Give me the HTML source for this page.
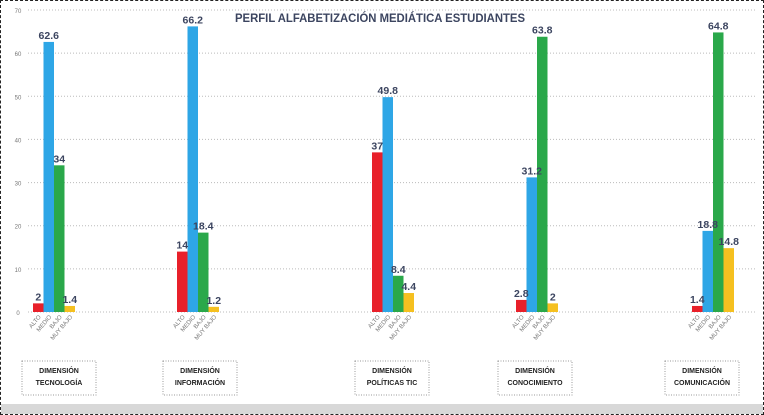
<!DOCTYPE html>
<html><head><meta charset="utf-8"><style>
html,body{margin:0;padding:0;background:#fff}
body{width:764px;height:415px;overflow:hidden;position:relative;font-family:"Liberation Sans",sans-serif}
</style></head><body>
<div style="position:absolute;left:0;top:0;width:762px;height:413px;border:1px dashed #222"></div>
<div style="position:absolute;left:1px;top:404px;width:762px;height:10px;background:#d8d8d8"></div>
<svg id="c" width="764" height="415" style="position:absolute;left:0;top:0"></svg>
<script>
const categories=["DIMENSIÓN TECNOLOGÍA","DIMENSIÓN INFORMACIÓN","DIMENSIÓN POLÍTICAS TIC","DIMENSIÓN CONOCIMIENTO","DIMENSIÓN COMUNICACIÓN"];
const levels=["ALTO","MEDIO","BAJO","MUY BAJO"];
const alto=[2,14,37,2.8,1.4];
const medio=[62.6,66.2,49.8,31.2,18.8];
const bajo=[34,18.4,8.4,63.8,64.8];
const muyBajo=[1.4,1.2,4.4,2,14.8];
const yTicks=[0,10,20,30,40,50,60,70];
const series=[alto,medio,bajo,muyBajo];
const colors=["#e8202a","#2ea6e6","#2aa84a","#f5c020"];
const groupLeft=[33,177,372,516,692];
const boxLines=[["DIMENSIÓN","TECNOLOGÍA"],["DIMENSIÓN","INFORMACIÓN"],["DIMENSIÓN","POLÍTICAS TIC"],["DIMENSIÓN","CONOCIMIENTO"],["DIMENSIÓN","COMUNICACIÓN"]];
const boxX=[22,163,355,498,665];
const svg=document.getElementById('c');const NS="http://www.w3.org/2000/svg";
const y0=312,yTop=10,yMax=70;
function y(v){return y0-(v/yMax)*(y0-yTop);}
function mk(t,a,p){const e=document.createElementNS(NS,t);for(const k in a)e.setAttribute(k,a[k]);(p||svg).appendChild(e);return e;}
const title=mk('text',{x:380,y:22,'text-anchor':'middle','font-size':12,'font-weight':'bold',fill:'#3c4560',textLength:290,lengthAdjust:'spacingAndGlyphs'});
title.textContent="PERFIL ALFABETIZACIÓN MEDIÁTICA ESTUDIANTES";


yTicks.forEach(t=>{
 if(t>0){const g=mk('line',{x1:28,x2:755,y1:y(t),y2:y(t),stroke:'#bbb','stroke-dasharray':'1 2'});
 
 }
 const l=mk('text',{x:18,y:y(t)+3,'text-anchor':'middle','font-size':6,fill:'#777'});
 l.textContent=t;
 
 
});
const ax=mk('line',{x1:28,x2:755,y1:y0,y2:y0,stroke:'#bbb','stroke-dasharray':'1 2'});


const bw=10.5;
categories.forEach((c,i)=>{
 series.forEach((s,j)=>{
  const x=groupLeft[i]+j*bw;
  const r=mk('rect',{x:x,y:y(s[i]),width:bw,height:y0-y(s[i]),fill:colors[j]});
  
  
  const tl=mk('text',{x:x+bw/2+3,y:y0+5,'text-anchor':'end','font-size':6,fill:'#777',transform:`rotate(-50 ${x+bw/2+3} ${y0+5})`});
  tl.textContent=levels[j];
  
  
 });
 const b=mk('rect',{x:boxX[i],y:361,width:74,height:34,fill:'#fff',stroke:'#999','stroke-dasharray':'1 1.5'});
 
 
 boxLines[i].forEach((ln,k)=>{
  const t=mk('text',{x:boxX[i]+37,y:373+k*12,'text-anchor':'middle','font-size':7,'font-weight':'bold',fill:'#222'});
  t.textContent=ln;
  
  
 });
});
categories.forEach((c,i)=>{
 series.forEach((s,j)=>{
  const x=groupLeft[i]+j*bw;
  const v=mk('text',{x:x+bw/2,y:y(s[i])-3,'text-anchor':'middle','font-size':10.5,'font-weight':'bold',fill:'#3c4560'});
  v.textContent=s[i];
  
  
 });
});
</script>
</body></html>
